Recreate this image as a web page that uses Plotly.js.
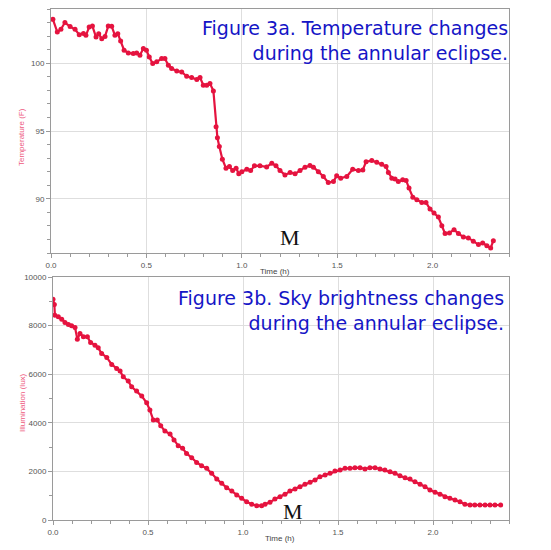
<!DOCTYPE html>
<html>
<head>
<meta charset="utf-8">
<script src="https://cdn.plot.ly/plotly-3.0.1.min.js"></script>
<style>html,body{margin:0;padding:0;background:#fff;}#chart{width:551px;height:550px;}</style>
</head>
<body>
<div id="chart"></div>
<script>
// Figure 3a: temperature (F) vs time (h)
const tempTime = [0.01,0.033,0.052,0.073,0.1,0.126,0.148,0.17,0.183,0.2,0.217,0.236,0.25,0.266,0.283,0.30,0.318,0.335,0.35,0.365,0.383,0.405,0.431,0.449,0.466,0.484,0.5,0.515,0.533,0.554,0.58,0.597,0.615,0.632,0.659,0.685,0.711,0.737,0.764,0.781,0.798,0.816,0.833,0.851,0.865,0.872,0.882,0.898,0.917,0.935,0.952,0.97,0.984,1.0,1.026,1.046,1.066,1.095,1.13,1.157,1.179,1.2,1.226,1.253,1.279,1.305,1.331,1.357,1.375,1.401,1.427,1.453,1.48,1.497,1.518,1.55,1.581,1.611,1.634,1.651,1.681,1.707,1.733,1.756,1.768,1.786,1.803,1.82,1.843,1.861,1.876,1.896,1.917,1.943,1.965,1.986,2.007,2.03,2.048,2.065,2.088,2.112,2.135,2.161,2.187,2.213,2.24,2.262,2.284,2.304,2.318];
const tempF = [103.24,102.3,102.5,103.0,102.7,102.5,102.1,102.2,102.06,102.67,102.74,101.93,102.18,101.8,101.98,102.74,102.72,102.06,102.18,101.64,100.96,100.76,100.71,100.76,100.59,101.08,100.96,100.46,99.98,100.1,100.35,100.35,99.85,99.61,99.43,99.36,99.04,98.95,98.8,98.95,98.38,98.38,98.5,97.96,95.32,94.5,93.85,92.92,92.26,92.38,92.08,92.26,91.84,92.0,92.18,92.08,92.43,92.43,92.35,92.62,92.43,92.08,91.76,91.93,91.84,92.08,92.33,92.45,92.33,92.0,91.64,91.2,91.27,91.69,91.52,91.64,92.18,92.08,92.13,92.74,92.82,92.7,92.55,92.38,91.93,91.52,91.45,91.27,91.4,91.35,90.79,90.12,89.93,89.73,89.73,89.24,88.95,88.65,88.01,87.43,87.48,87.72,87.43,87.18,87.11,86.86,86.62,86.74,86.54,86.37,86.91];

// Figure 3b: illumination (lux) vs time (h)
const luxTime = [0.0,0.007,0.01,0.028,0.046,0.063,0.081,0.098,0.116,0.128,0.142,0.16,0.181,0.198,0.221,0.238,0.256,0.283,0.309,0.335,0.353,0.37,0.396,0.414,0.44,0.467,0.493,0.51,0.528,0.549,0.567,0.589,0.616,0.637,0.659,0.682,0.703,0.73,0.756,0.782,0.809,0.835,0.862,0.888,0.914,0.941,0.967,0.993,1.019,1.046,1.072,1.098,1.116,1.142,1.168,1.195,1.221,1.247,1.274,1.3,1.326,1.353,1.379,1.405,1.432,1.458,1.484,1.511,1.537,1.563,1.589,1.616,1.642,1.668,1.695,1.721,1.747,1.774,1.8,1.826,1.853,1.879,1.905,1.932,1.958,1.984,2.011,2.037,2.063,2.089,2.116,2.142,2.168,2.195,2.22,2.247,2.274,2.3,2.326,2.356];
const luxVal = [9087,8870,8429,8360,8265,8129,8047,7990,7924,7442,7676,7537,7537,7307,7196,7085,6854,6690,6402,6238,6127,5893,5716,5481,5304,5099,4824,4523,4112,4112,3879,3660,3536,3289,3055,2948,2741,2563,2371,2234,2125,1919,1686,1508,1330,1192,1028,891,754,645,590,590,645,726,863,960,1055,1192,1275,1371,1467,1549,1645,1782,1850,1919,2015,2056,2125,2125,2152,2152,2097,2152,2152,2097,2056,1988,1919,1823,1741,1686,1576,1467,1371,1234,1138,1055,960,891,822,754,645,617,617,617,617,617,617,617];

const xTickVals = [0, 0.5, 1.0, 1.5, 2.0];
const tempTickVals = [90, 95, 100];
const luxTickVals = [0, 2000, 4000, 6000, 8000, 10000];

const W = 551, H = 550;
const px = v => v / W;
const py = v => 1 - v / H;

const red = '#e5133f';
const gridC = '#dedede';
const axisC = '#9a9a9a';
const tickFont = {family: 'Arial, Liberation Sans, sans-serif', size: 8, color: '#555'};

function xAxis(domain, anchor) {
  return {
    domain: domain, anchor: anchor, range: [0, 2.4],
    tickvals: xTickVals, tickformat: '.1f',
    showgrid: true, gridcolor: gridC, gridwidth: 1,
    zeroline: false, showline: true, linecolor: axisC, linewidth: 1, mirror: true,
    ticks: 'outside', ticklen: 4, tickcolor: axisC, tickfont: tickFont,
    minor: {dtick: 0.1, ticks: 'outside', ticklen: 3, tickcolor: axisC, showgrid: false}
  };
}
function yAxis(domain, anchor, range, vals, mdt) {
  return {
    domain: domain, anchor: anchor, range: range,
    tickvals: vals, tickformat: 'd',
    showgrid: true, gridcolor: gridC, gridwidth: 1,
    zeroline: false, showline: true, linecolor: axisC, linewidth: 1, mirror: true,
    ticks: 'outside', ticklen: 4, tickcolor: axisC, tickfont: tickFont,
    minor: {dtick: mdt, ticks: 'outside', ticklen: 3, tickcolor: axisC, showgrid: false}
  };
}

const traces = [
  {x: tempTime, y: tempF, xaxis: 'x', yaxis: 'y', type: 'scatter', mode: 'lines+markers',
   line: {color: red, width: 2.2}, marker: {color: red, size: 5}, hoverinfo: 'skip'},
  {x: luxTime, y: luxVal, xaxis: 'x2', yaxis: 'y2', type: 'scatter', mode: 'lines+markers',
   line: {color: red, width: 2.2}, marker: {color: red, size: 5}, hoverinfo: 'skip'}
];

const titleFont = {family: 'DejaVu Sans, Verdana, sans-serif', size: 19, color: '#1515c6'};
const labelFontPink = {family: 'Arial, Liberation Sans, sans-serif', size: 8, color: '#ee5a80'};
const labelFontDark = {family: 'Arial, Liberation Sans, sans-serif', size: 8, color: '#444'};
const mFont = {family: 'Liberation Serif, Times New Roman, serif', size: 22, color: '#111'};

const layout = {
  width: W, height: H,
  margin: {l: 0, r: 0, t: 0, b: 0},
  paper_bgcolor: '#fff', plot_bgcolor: '#fff',
  showlegend: false,
  xaxis: xAxis([px(51), px(509)], 'y'),
  yaxis: yAxis([py(253), py(9)], 'x', [86, 104], tempTickVals, 1),
  xaxis2: xAxis([px(53), px(509)], 'y2'),
  yaxis2: yAxis([py(520), py(277)], 'x2', [0, 10000], luxTickVals, 1000),
  annotations: [
    {xref: 'paper', yref: 'paper', x: px(510), y: py(40), xanchor: 'right', yanchor: 'middle', align: 'right',
     text: 'Figure 3a. Temperature changes<br>during the annular eclipse.', showarrow: false, font: titleFont},
    {xref: 'paper', yref: 'paper', x: px(506), y: py(310), xanchor: 'right', yanchor: 'middle', align: 'right',
     text: 'Figure 3b. Sky brightness changes<br>during the annular eclipse.', showarrow: false, font: titleFont},
    {xref: 'paper', yref: 'paper', x: px(290), y: py(237), xanchor: 'center', yanchor: 'middle',
     text: 'M', showarrow: false, font: mFont},
    {xref: 'paper', yref: 'paper', x: px(293), y: py(511), xanchor: 'center', yanchor: 'middle',
     text: 'M', showarrow: false, font: mFont},
    {xref: 'paper', yref: 'paper', x: px(22), y: py(137), xanchor: 'center', yanchor: 'middle', textangle: -90,
     text: 'Temperature (F)', showarrow: false, font: labelFontPink},
    {xref: 'paper', yref: 'paper', x: px(22), y: py(403), xanchor: 'center', yanchor: 'middle', textangle: -90,
     text: 'Illumination (lux)', showarrow: false, font: labelFontPink},
    {xref: 'paper', yref: 'paper', x: px(275), y: py(271), xanchor: 'center', yanchor: 'middle',
     text: 'Time (h)', showarrow: false, font: labelFontDark},
    {xref: 'paper', yref: 'paper', x: px(280), y: py(538), xanchor: 'center', yanchor: 'middle',
     text: 'Time (h)', showarrow: false, font: labelFontDark}
  ]
};

Plotly.newPlot('chart', traces, layout, {displayModeBar: false, staticPlot: true});
</script>
</body>
</html>
